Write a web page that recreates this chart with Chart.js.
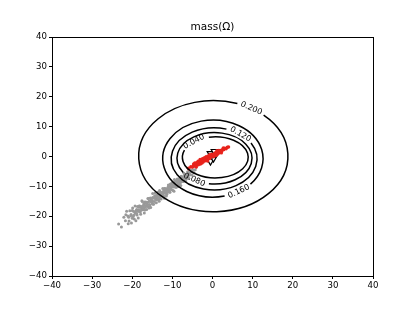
<!DOCTYPE html>
<html>
<head>
<meta charset="utf-8">
<script src="https://cdn.jsdelivr.net/npm/chart.js@4/dist/chart.umd.min.js"></script>
<style>
  html, body { margin: 0; padding: 0; background: #fff; }
  canvas { display: block; }
</style>
</head>
<body>
<canvas id="grafico" width="415" height="311"></canvas>
<script>
// axis ticks
const tickValues = [-40, -30, -20, -10, 0, 10, 20, 30, 40];

// contour rings (data units)
const levels = [0.200, 0.160, 0.120, 0.080, 0.040];
const ringCx = [0.2, 0.1, 0.4, 0.5, 0.7];
const ringCy = [0.1, -0.7, -0.8, -0.6, -0.3];
const ringRx = [18.6, 12.5, 10.7, 9.35, 8.2];
const ringRy = [18.6, 12.9, 10.4, 8.6, 6.9];
const labelAt = [59.4, -59, 52, -122.6, 130.5]; // degrees on each ring

// gray samples
const grayPoints = [
  [-4.3,-4.4],[-4.6,-5.4],[-4.8,-4.5],[-5.1,-6.2],[-5.2,-5.1],[-5.5,-4.7],[-5.6,-6.1],[-5.9,-7.3],
  [-6.0,-5.7],[-6.2,-5.1],[-6.3,-7.1],[-6.5,-6.6],[-6.7,-8.4],[-6.8,-6.2],[-7.0,-7.4],[-7.1,-5.6],
  [-7.3,-8.4],[-7.4,-7.1],[-7.6,-8.1],[-7.7,-6.7],[-7.9,-9.7],[-8.0,-8.1],[-8.2,-7.4],[-8.3,-9.2],
  [-8.5,-8.1],[-8.6,-10.0],[-8.8,-7.5],[-8.9,-9.1],[-9.1,-8.4],[-9.2,-10.3],[-9.4,-9.2],[-9.5,-7.7],
  [-9.7,-10.2],[-9.8,-11.4],[-10.0,-9.4],[-10.1,-8.9],[-10.3,-11.0],[-10.4,-10.4],[-10.6,-12.0],[-10.7,-9.8],
  [-10.9,-11.2],[-11.0,-9.5],[-11.2,-12.0],[-11.3,-10.8],[-11.5,-13.2],[-11.6,-11.2],[-11.8,-10.7],[-11.9,-12.3],
  [-12.1,-11.3],[-12.2,-13.3],[-12.4,-10.7],[-12.5,-12.5],[-12.7,-12.1],[-12.8,-14.2],[-13.0,-11.8],[-13.1,-13.5],
  [-13.3,-12.9],[-13.4,-14.2],[-13.6,-12.0],[-13.7,-13.7],[-13.9,-12.9],[-14.0,-15.5],[-14.2,-13.9],[-14.3,-12.2],
  [-14.5,-15.1],[-14.6,-13.8],[-14.8,-15.9],[-14.9,-13.7],[-15.1,-15.2],[-15.2,-14.6],[-15.4,-17.1],[-15.5,-13.9],
  [-15.7,-16.1],[-15.8,-15.0],[-16.0,-16.8],[-16.1,-14.1],[-16.3,-16.0],[-16.4,-17.7],[-16.6,-15.4],[-16.7,-16.9],
  [-16.9,-15.2],[-17.0,-18.9],[-17.2,-16.4],[-17.3,-17.8],[-17.5,-15.1],[-17.6,-17.4],[-17.8,-16.7],[-17.9,-19.3],
  [-18.1,-16.6],[-18.2,-18.4],[-18.4,-17.8],[-18.5,-20.6],[-18.7,-16.7],[-18.8,-19.6],[-19.0,-18.1],[-19.2,-19.0],
  [-19.3,-16.6],[-19.5,-20.9],[-19.7,-18.3],[-19.8,-20.1],[-20.0,-18.1],[-20.2,-22.3],[-20.4,-19.8],[-20.6,-18.2],
  [-20.8,-21.6],[-21.1,-19.9],[-21.4,-18.3],[-21.7,-21.5],[-22.1,-20.3],[-22.7,-23.6],[-23.4,-22.6],
  [-5.3,-4.6],[-5.8,-6.2],[-6.4,-6.0],[-6.9,-8.0],[-7.2,-7.0],[-7.8,-6.6],[-8.1,-8.6],[-8.7,-8.6],
  [-9.0,-10.3],[-9.3,-8.3],[-9.9,-9.5],[-10.2,-11.1],[-10.5,-9.2],[-10.8,-11.0],[-11.1,-10.3],[-11.4,-12.6],
  [-11.7,-11.7],[-12.0,-10.7],[-12.3,-13.0],[-12.6,-12.1],[-12.9,-13.1],[-13.2,-11.4],[-13.5,-14.4],[-13.8,-13.3],
  [-14.1,-14.4],[-14.4,-13.1],[-14.7,-16.0],[-15.0,-14.8],[-15.3,-14.2],[-15.6,-16.5],[-15.9,-14.1],[-16.2,-16.1],
  [-16.5,-15.6],[-16.8,-17.9],[-17.1,-15.7],[-17.4,-17.4],[-17.7,-17.0],[-18.0,-18.6],[-18.3,-16.6],[-18.6,-18.3],
  [-18.9,-17.7],[-19.6,-19.7],[-20.3,-19.4],[-21.0,-22.5],[-19.1,-21.5],[-17.6,-14.8],[-14.9,-12.4],[-12.0,-14.0],
  [-9.6,-11.6],[-6.1,-6.4],[-7.5,-8.2],[-8.4,-7.5],[-9.8,-9.0],[-11.0,-11.5],[-12.4,-12.2],[-13.9,-14.4],
  [-15.2,-15.2],[-16.6,-15.2],[-18.0,-17.0],
  [-7.0,-6.2],[-7.9,-8.6],[-8.9,-8.0],[-9.5,-9.9],[-10.1,-10.0],[-10.9,-10.0],[-11.3,-11.7],[-11.9,-11.0],
  [-12.6,-13.2],[-13.0,-12.4],[-13.6,-13.0],[-14.0,-13.5],[-14.5,-14.0],[-15.0,-15.8],[-15.5,-14.9],[-16.0,-15.2],
  [-16.4,-16.6],[-16.9,-16.3],[-17.3,-16.5],[-17.8,-18.0],[-18.4,-16.9],[-18.9,-19.1],[-19.4,-18.6],[-20.0,-20.7],
  [-20.9,-20.3],[-21.6,-19.5],[-19.9,-17.2],[-12.2,-11.7],[-10.7,-11.9],[-9.2,-9.6],[-8.2,-9.9],[-6.6,-7.6],
  [-5.7,-5.4],[-15.8,-17.2],[-13.3,-15.0],[-17.0,-17.2]
];

// red samples
const redPoints = [
  [-5.4,-3.4],[-5.0,-3.6],[-4.7,-2.5],[-4.5,-3.0],[-4.2,-2.3],[-4.0,-3.1],[-3.8,-2.3],[-3.6,-1.6],
  [-3.4,-2.4],[-3.2,-1.7],[-3.0,-2.5],[-2.8,-1.2],[-2.7,-1.7],[-2.5,-0.7],[-2.3,-1.8],[-2.2,-1.1],
  [-2.0,-1.3],[-1.8,-0.4],[-1.7,-1.4],[-1.5,-0.5],[-1.3,-0.9],[-1.1,0.2],[-1.0,-0.5],[-0.8,0.1],
  [-0.6,-0.6],[-0.4,0.2],[-0.2,0.8],[0.0,0.1],[0.2,0.7],[0.4,0.2],[0.6,1.2],[0.8,0.8],
  [1.0,1.4],[1.2,0.7],[1.4,1.5],[1.6,2.0],[1.8,1.4],[2.0,2.0],[2.3,1.7],[2.5,2.4],
  [2.8,2.3],[3.1,2.8],[3.4,2.6],[3.7,3.1],[4.0,3.2],[-4.8,-3.1],[-3.9,-2.1],[-2.9,-1.9],
  [-1.9,-1.0],[-0.9,-0.7],[0.5,0.7],[1.5,1.1],[-8.6,-9.8],[-6.0,-3.9],
  [-4.4,-2.2],[-3.5,-2.8],[-2.6,-2.2],[-1.6,-0.1],[-0.7,0.6],[0.3,-0.1],[1.1,1.9],[2.2,1.2],
  [-3.1,-1.0],[-4.1,-3.6],[-2.1,-0.5],[0.9,0.3],[2.7,2.9],[-1.2,-1.5],[-5.8,-4.3]
];

// triangle markers
const markerPoints = [[-0.5,-1.2],[0.25,-0.2],[-0.25,0.8],[0.75,1.5]];

const toXY = p => ({ x: p[0], y: p[1] });
const minus = v => String(v).replace('-', '\u2212');

const contourPlugin = {
  id: 'contours',
  afterDatasetsDraw(chart) {
    const { ctx, scales: { x, y } } = chart;
    ctx.save();
    ctx.strokeStyle = '#000';
    ctx.fillStyle = '#000';
    ctx.lineWidth = 1.5;
    ctx.font = '8px "DejaVu Sans"';
    ctx.textAlign = 'center';
    ctx.textBaseline = 'middle';
    for (let i = 0; i < levels.length; i++) {
      const cx = x.getPixelForValue(ringCx[i]);
      const cy = y.getPixelForValue(ringCy[i]);
      const rx = Math.abs(x.getPixelForValue(ringCx[i] + ringRx[i]) - cx);
      const ry = Math.abs(y.getPixelForValue(ringCy[i] + ringRy[i]) - cy);
      const t = -labelAt[i] * Math.PI / 180;
      const text = levels[i].toFixed(3);
      const w = ctx.measureText(text).width;
      const speed = Math.hypot(rx * Math.sin(t), ry * Math.cos(t));
      const dt = (w / 2 + 3) / speed;
      ctx.beginPath();
      ctx.ellipse(cx, cy, rx, ry, 0, t + dt, t - dt + 2 * Math.PI);
      ctx.stroke();
      let rot = Math.atan2(ry * Math.cos(t), -rx * Math.sin(t));
      if (rot > Math.PI / 2) rot -= Math.PI;
      if (rot < -Math.PI / 2) rot += Math.PI;
      ctx.save();
      ctx.translate(cx + rx * Math.cos(t), cy + ry * Math.sin(t));
      ctx.rotate(rot);
      ctx.fillText(text, 0, 0);
      ctx.restore();
    }
    ctx.restore();
  }
};

const framePlugin = {
  id: 'frame',
  afterDraw(chart) {
    const { ctx, chartArea: a } = chart;
    ctx.save();
    ctx.strokeStyle = '#000';
    ctx.lineWidth = 1;
    ctx.strokeRect(Math.round(a.left) + 0.5, Math.round(a.top) + 0.5,
      Math.round(a.right - a.left), Math.round(a.bottom - a.top));
    ctx.fillStyle = '#000';
    ctx.font = '10.5px "DejaVu Sans"';
    ctx.textAlign = 'center';
    ctx.textBaseline = 'middle';
    ctx.fillText('mass(\u03A9)', (a.left + a.right) / 2, 27);
    ctx.restore();
  }
};

const tickFont = { family: 'DejaVu Sans', size: 8.6 };

const config = {
  type: 'scatter',
  data: {
    datasets: [
      {
        data: grayPoints.map(toXY),
        backgroundColor: '#999999',
        borderWidth: 0,
        pointRadius: 1.5
      },
      {
        data: redPoints.map(toXY),
        backgroundColor: '#e8231c',
        borderWidth: 0,
        pointRadius: 1.7
      },
      {
        data: markerPoints.map(toXY),
        pointStyle: 'triangle',
        rotation: 180,
        backgroundColor: '#fff',
        borderColor: '#000',
        borderWidth: 1.2,
        pointRadius: 5
      }
    ]
  },
  options: {
    responsive: false,
    animation: false,
    devicePixelRatio: 1,
    layout: { padding: { top: 37, right: 42, left: 0, bottom: 0 } },
    plugins: { legend: { display: false }, tooltip: { enabled: false } },
    scales: {
      x: {
        type: 'linear', min: -40, max: 40,
        afterFit: s => { s.height = 35; },
        afterBuildTicks: s => { s.ticks = tickValues.map(v => ({ value: v })); },
        grid: { drawOnChartArea: false, tickLength: 3, tickColor: '#000' },
        border: { color: '#000' },
        ticks: { color: '#000', font: tickFont, padding: 2, maxRotation: 0, callback: minus }
      },
      y: {
        type: 'linear', min: -40, max: 40,
        afterFit: s => { s.width = 52; },
        afterBuildTicks: s => { s.ticks = tickValues.map(v => ({ value: v })); },
        grid: { drawOnChartArea: false, tickLength: 3, tickColor: '#000' },
        border: { color: '#000' },
        ticks: { color: '#000', font: tickFont, padding: 2, callback: minus }
      }
    }
  },
  plugins: [contourPlugin, framePlugin]
};

new Chart(document.getElementById('grafico').getContext('2d'), config);
</script>
</body>
</html>
